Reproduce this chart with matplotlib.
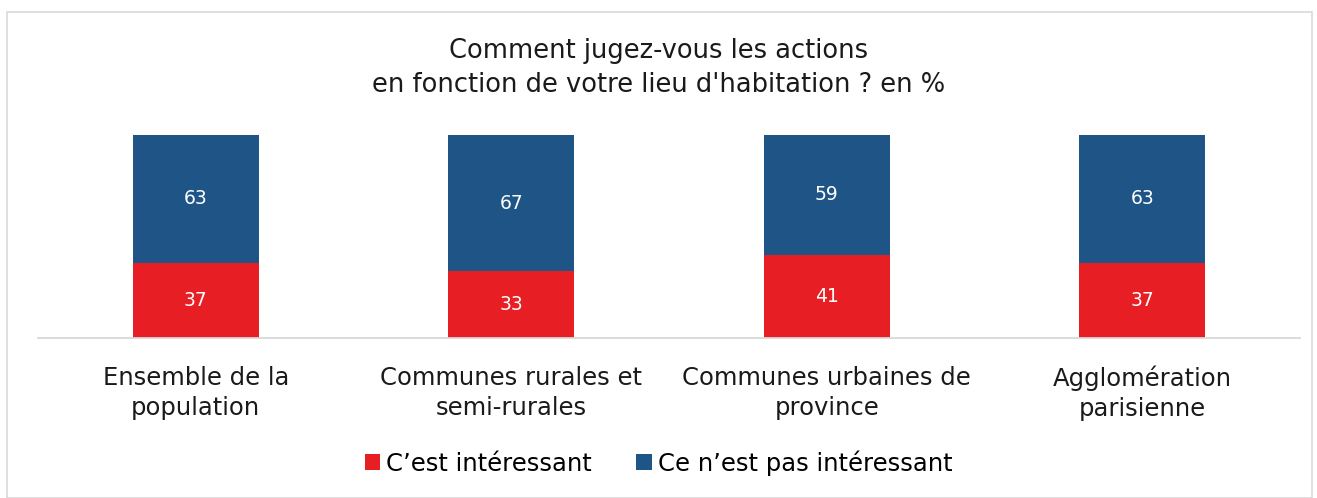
import matplotlib.pyplot as plt
from matplotlib.patches import Rectangle

# Data
categories = ["Ensemble de la\npopulation", "Communes rurales et\nsemi-rurales",
              "Communes urbaines de\nprovince", "Agglomération\nparisienne"]
interessant = [37, 33, 41, 37]
pas_interessant = [63, 67, 59, 63]

red = "#E81E25"
blue = "#1F5586"

plt.rcParams['font.family'] = ['DejaVu Sans']

W, H = 1317, 498
fig = plt.figure(figsize=(W / 100, H / 100), dpi=100)

# chart border
fig.patches.append(Rectangle((7 / W, 0), (1312 - 7) / W, 1 - 12 / H, transform=fig.transFigure,
                             fill=False, edgecolor="#D9D9D9", linewidth=1.2))

ax = fig.add_axes([38 / W, 1 - 338 / H, (1300 - 38) / W, 203 / H])
x = range(len(categories))
b1 = ax.bar(x, interessant, width=0.4, color=red)
b2 = ax.bar(x, pas_interessant, width=0.4, bottom=interessant, color=blue)

for i in x:
    ax.text(i, interessant[i] / 2, str(interessant[i]), ha="center", va="center",
            color="white", fontsize=13.5)
    ax.text(i, interessant[i] + pas_interessant[i] / 2, str(pas_interessant[i]),
            ha="center", va="center", color="white", fontsize=13.5)

ax.set_xlim(-0.5, 3.5)
ax.set_ylim(0, 100)
ax.set_yticks([])
ax.set_xticks(list(x))
ax.set_xticklabels(categories, fontsize=17.5, color="#1a1a1a", linespacing=1.32)
ax.tick_params(axis="x", length=0, pad=20)
for s in ["top", "right", "left"]:
    ax.spines[s].set_visible(False)
ax.spines["bottom"].set_color("#D9D9D9")
ax.spines["bottom"].set_linewidth(1.3)

fig.text(0.5, 1 - 68 / H, "Comment jugez-vous les actions\nen fonction de votre lieu d'habitation ? en %",
         ha="center", va="center", fontsize=18.5, color="#1a1a1a", linespacing=1.4)

fig.legend([b1, b2], ["C’est intéressant", "Ce n’est pas intéressant"],
           loc="center", bbox_to_anchor=(0.5, 1 - 463 / H), ncol=2, frameon=False,
           fontsize=17.5, handlelength=0.65, handleheight=0.65, handletextpad=0.25,
           columnspacing=1.8)

fig.savefig("out.png", dpi=100)
